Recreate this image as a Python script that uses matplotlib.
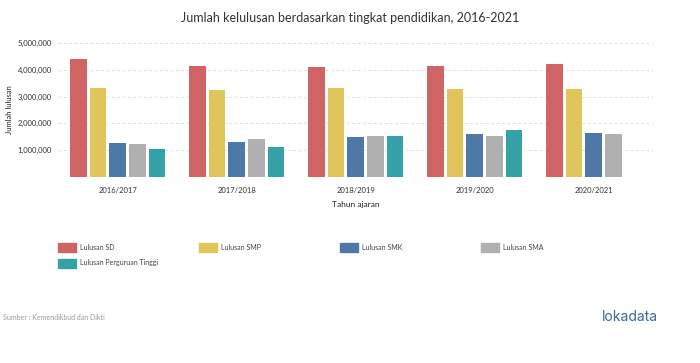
import numpy as np
import matplotlib.pyplot as plt
from matplotlib.patches import Rectangle
from matplotlib.ticker import FuncFormatter

plt.rcParams['font.family'] = ['Lato', 'DejaVu Sans']

tahun = ['2016/2017', '2017/2018', '2018/2019', '2019/2020', '2020/2021']
seri = ['Lulusan SD', 'Lulusan SMP', 'Lulusan SMK', 'Lulusan SMA', 'Lulusan Perguruan Tinggi']
lulusan_sd = [4400000, 4130000, 4090000, 4130000, 4200000]
lulusan_smp = [3300000, 3240000, 3300000, 3290000, 3290000]
lulusan_smk = [1280000, 1300000, 1480000, 1590000, 1640000]
lulusan_sma = [1250000, 1420000, 1530000, 1540000, 1590000]
lulusan_pt = [1040000, 1120000, 1530000, 1770000, np.nan]
warna = ['#d06464', '#e0c45c', '#4e78a8', '#b0b0b0', '#34a2a6']

nilai = [lulusan_sd, lulusan_smp, lulusan_smk, lulusan_sma, lulusan_pt]

fig = plt.figure(figsize=(7, 3.63), dpi=100)
ax = fig.add_axes([0.083, 0.512, 0.85, 0.370])

x = np.arange(len(tahun))
step = 0.165
lebar = 0.14
for i, (vals, c) in enumerate(zip(nilai, warna)):
    ax.bar(x + (i - 2) * step, vals, width=lebar, color=c, zorder=3)

ax.set_xlim(-0.5, len(tahun) - 0.5)
ax.set_ylim(0, 5000000)
ax.set_yticks([1000000, 2000000, 3000000, 4000000, 5000000])
ax.yaxis.set_major_formatter(FuncFormatter(lambda v, p: f'{int(v):,}'))
ax.grid(axis='y', color='#d9d9d9', linestyle=(0, (2.5, 3)), linewidth=0.7, zorder=0)
ax.axhline(0, color='#b0b0b0', linestyle=(0, (2, 2)), linewidth=0.8, zorder=4)
for s in ax.spines.values():
    s.set_visible(False)
ax.set_xticks(x)
ax.set_xticklabels(tahun)
ax.tick_params(axis='both', length=0, labelsize=5.5, colors='#333333')
ax.tick_params(axis='x', pad=7)
ax.tick_params(axis='y', pad=4.5)
ax.set_xlabel('Tahun ajaran', fontsize=6, color='#222222', labelpad=5)
ax.set_ylabel('Jumlah lulusan', fontsize=5.5, color='#222222', labelpad=3)

fig.text(0.5, 0.95, 'Jumlah kelulusan berdasarkan tingkat pendidikan, 2016-2021',
         ha='center', va='center', fontsize=9, color='#333333')

# legenda manual
W, H = 700, 363
posisi = [(58, 247), (199, 247), (340, 247), (481, 247), (58, 263)]
for (px, py), nama, c in zip(posisi, seri, warna):
    fig.patches.append(Rectangle((px / W, 1 - (py + 4.5) / H), 18 / W, 9 / H,
                                 transform=fig.transFigure, color=c))
    fig.text((px + 22) / W, 1 - py / H, nama, ha='left', va='center',
             fontsize=5, color='#444444')

fig.text(3 / W, 1 - 317 / H, 'Sumber : Kemendikbud dan Dikti', ha='left', va='center',
         fontsize=5, color='#999999')
fig.text(630 / W, 1 - 317 / H, 'lokadata', ha='center', va='center',
         fontsize=10, color='#3b6a9a', family=['Inter', 'DejaVu Sans'])

fig.savefig('out.png', dpi=100)
